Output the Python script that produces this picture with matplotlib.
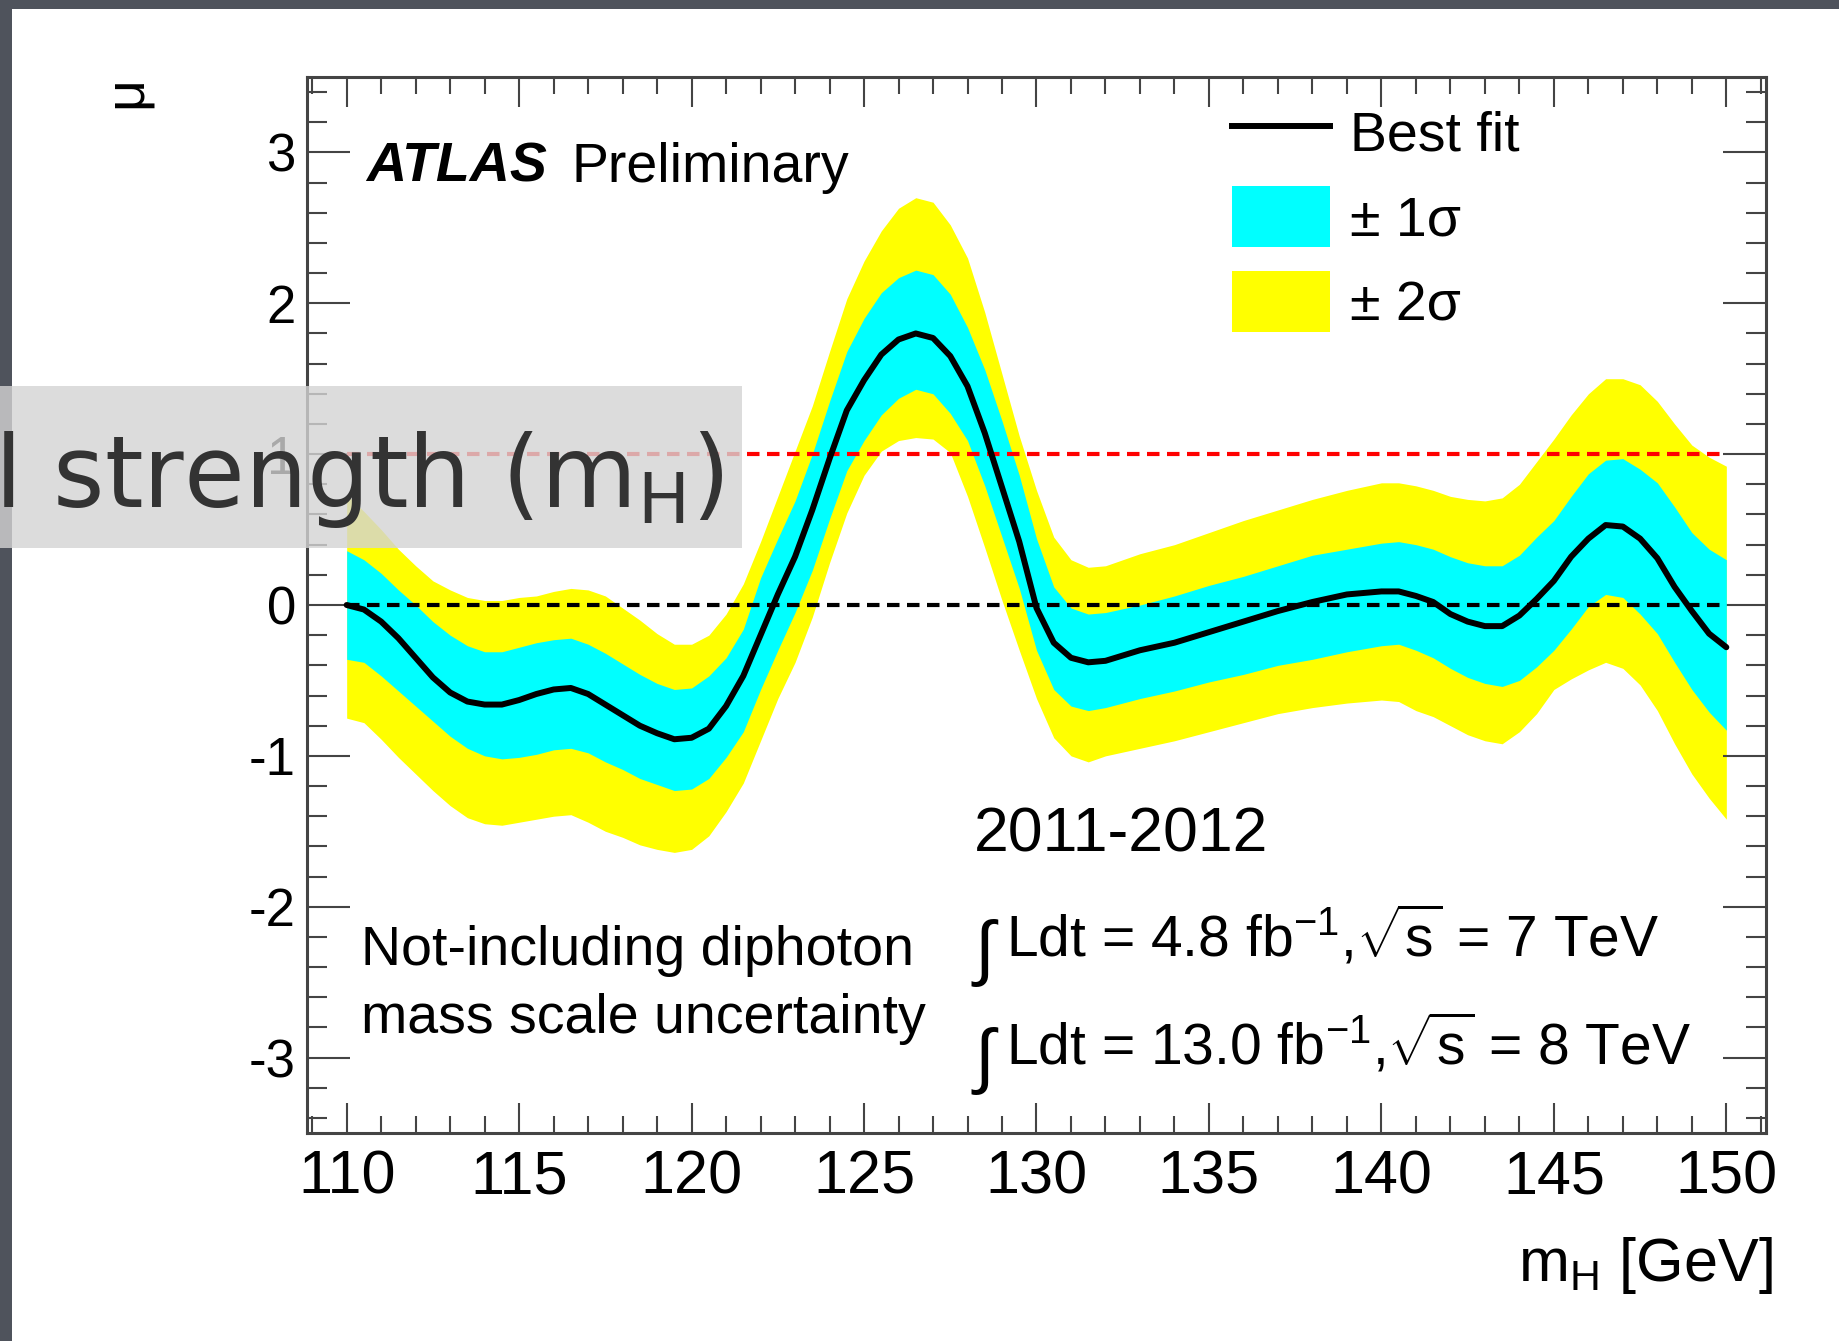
import matplotlib.pyplot as plt
from matplotlib.lines import Line2D
from matplotlib.patches import Patch, Rectangle
from matplotlib.ticker import MultipleLocator

plt.rcParams['font.family'] = ['Liberation Sans', 'DejaVu Sans']
plt.rcParams['mathtext.fontset'] = 'custom'
plt.rcParams['mathtext.rm'] = 'Liberation Sans'
plt.rcParams['mathtext.it'] = 'Liberation Sans:italic'
plt.rcParams['mathtext.bf'] = 'Liberation Sans:bold'
plt.rcParams['axes.unicode_minus'] = False

# Higgs mass hypotheses (GeV)
mh = [110, 110.5, 111, 111.5, 112, 112.5, 113, 113.5, 114, 114.5,
      115, 115.5, 116, 116.5, 117, 117.5, 118, 118.5, 119, 119.5,
      120, 120.5, 121, 121.5, 122, 122.5, 123, 123.5, 124, 124.5,
      125, 125.5, 126, 126.5, 127, 127.5, 128, 128.5, 129, 129.5,
      130, 130.5, 131, 131.5, 132, 133, 134, 135, 136, 137,
      138, 139, 140, 140.5, 141, 141.5, 142, 142.5, 143, 143.5,
      144, 144.5, 145, 145.5, 146, 146.5, 147, 147.5, 148, 148.5,
      149, 149.5, 150]

# best fit signal strength
mu_best = [0.00, -0.03, -0.11, -0.22, -0.35, -0.48, -0.58, -0.64, -0.66, -0.66,
           -0.63, -0.59, -0.56, -0.55, -0.59, -0.66, -0.73, -0.80, -0.85, -0.89,
           -0.88, -0.82, -0.67, -0.47, -0.20, 0.07, 0.32, 0.63, 0.97, 1.29,
           1.49, 1.66, 1.76, 1.80, 1.77, 1.65, 1.45, 1.14, 0.78, 0.42,
           -0.02, -0.25, -0.35, -0.38, -0.37, -0.30, -0.25, -0.18, -0.11, -0.04,
           0.02, 0.07, 0.09, 0.09, 0.06, 0.02, -0.06, -0.11, -0.14, -0.14,
           -0.07, 0.04, 0.16, 0.32, 0.44, 0.53, 0.52, 0.44, 0.31, 0.12,
           -0.04, -0.19, -0.28]

# +-1 sigma band edges
sig1_hi = [0.36, 0.30, 0.21, 0.10, 0.00, -0.11, -0.20, -0.27, -0.31, -0.31,
           -0.28, -0.25, -0.23, -0.22, -0.26, -0.32, -0.39, -0.46, -0.52, -0.56,
           -0.55, -0.47, -0.35, -0.16, 0.18, 0.44, 0.69, 1.00, 1.35, 1.68,
           1.90, 2.07, 2.17, 2.22, 2.19, 2.06, 1.84, 1.56, 1.22, 0.86,
           0.44, 0.12, -0.02, -0.06, -0.05, 0.00, 0.06, 0.13, 0.19, 0.26,
           0.33, 0.37, 0.41, 0.42, 0.40, 0.37, 0.32, 0.28, 0.26, 0.26,
           0.33, 0.45, 0.56, 0.72, 0.87, 0.96, 0.97, 0.90, 0.81, 0.65,
           0.48, 0.37, 0.30]
sig1_lo = [-0.36, -0.38, -0.47, -0.57, -0.67, -0.77, -0.87, -0.95, -1.00, -1.02,
           -1.01, -0.99, -0.96, -0.95, -0.98, -1.04, -1.09, -1.15, -1.19, -1.23,
           -1.22, -1.15, -1.01, -0.84, -0.56, -0.30, -0.05, 0.23, 0.57, 0.89,
           1.09, 1.26, 1.37, 1.43, 1.40, 1.27, 1.09, 0.79, 0.45, 0.11,
           -0.30, -0.56, -0.67, -0.70, -0.68, -0.62, -0.57, -0.51, -0.46, -0.40,
           -0.36, -0.31, -0.27, -0.26, -0.30, -0.35, -0.42, -0.48, -0.52, -0.54,
           -0.50, -0.41, -0.30, -0.16, -0.01, 0.07, 0.05, -0.06, -0.19, -0.38,
           -0.56, -0.71, -0.83]

# +-2 sigma band edges
sig2_hi = [0.73, 0.62, 0.50, 0.37, 0.26, 0.16, 0.10, 0.05, 0.03, 0.03,
           0.05, 0.06, 0.09, 0.11, 0.10, 0.06, -0.02, -0.10, -0.19, -0.26,
           -0.26, -0.20, -0.06, 0.14, 0.42, 0.72, 1.02, 1.32, 1.68, 2.03,
           2.28, 2.48, 2.63, 2.70, 2.67, 2.52, 2.30, 1.94, 1.53, 1.12,
           0.76, 0.45, 0.30, 0.25, 0.26, 0.34, 0.40, 0.48, 0.56, 0.63,
           0.70, 0.76, 0.81, 0.81, 0.79, 0.76, 0.72, 0.70, 0.69, 0.71,
           0.80, 0.95, 1.10, 1.26, 1.40, 1.50, 1.50, 1.46, 1.35, 1.20,
           1.06, 0.98, 0.92]
sig2_lo = [-0.75, -0.78, -0.89, -1.01, -1.12, -1.23, -1.33, -1.41, -1.45, -1.46,
           -1.44, -1.42, -1.40, -1.39, -1.44, -1.50, -1.54, -1.59, -1.62, -1.64,
           -1.62, -1.53, -1.37, -1.18, -0.90, -0.62, -0.38, -0.08, 0.28, 0.61,
           0.86, 1.02, 1.09, 1.11, 1.10, 1.01, 0.72, 0.38, 0.03, -0.30,
           -0.62, -0.88, -1.00, -1.04, -1.00, -0.95, -0.90, -0.84, -0.78, -0.72,
           -0.68, -0.65, -0.63, -0.64, -0.70, -0.74, -0.80, -0.86, -0.90, -0.92,
           -0.84, -0.72, -0.56, -0.49, -0.43, -0.38, -0.42, -0.53, -0.70, -0.92,
           -1.12, -1.28, -1.42]

legend_labels = ['Best fit', '± 1σ', '± 2σ']

W, H = 1840, 1341
fig = plt.figure(figsize=(W / 100, H / 100), dpi=100)
ax = fig.add_axes([307 / W, 1 - 1133 / H, 1459 / W, 1056 / H])

# bands, reference lines, best fit
ax.fill_between(mh, sig2_lo, sig2_hi, color='#ffff00', lw=0, zorder=1)
ax.fill_between(mh, sig1_lo, sig1_hi, color='#00ffff', lw=0, zorder=2)
ax.hlines(0, mh[0], mh[-1], colors='black', lw=3, linestyles=(0, (3, 1.8)), zorder=3)
ax.hlines(1, mh[0], mh[-1], colors='#ff0000', lw=3, linestyles=(0, (3, 1.8)), zorder=3)
ax.plot(mh, mu_best, color='black', lw=4.3, zorder=4, solid_capstyle='round')

ax.set_xlim(108.85, 151.15)
ax.set_ylim(-3.5, 3.5)

ax.xaxis.set_major_locator(MultipleLocator(5))
ax.xaxis.set_minor_locator(MultipleLocator(1))
ax.yaxis.set_major_locator(MultipleLocator(1))
ax.yaxis.set_minor_locator(MultipleLocator(0.2))
ax.tick_params(which='both', direction='in', top=True, right=True,
               color='#444444', width=1.5)
ax.tick_params(axis='x', which='major', length=21.6, labelsize=44, pad=12)
ax.tick_params(axis='x', which='minor', length=12)
ax.tick_params(axis='y', which='major', length=31, labelsize=38, pad=8)
ax.tick_params(axis='y', which='minor', length=14.4)
for sp in ax.spines.values():
    sp.set_linewidth(2.2)
    sp.set_color('#444444')

ax.set_xlabel(r'$\mathregular{m_H}$ [GeV]', loc='right', fontsize=44)
ax.xaxis.set_label_coords(1.005, -0.097)
ax.text(-0.1236, 0.986, 'μ', transform=ax.transAxes, rotation=90,
        fontsize=40, ha='center', va='center')

# labels inside the frame
ax.text(0.0404, 0.9006, 'ATLAS', transform=ax.transAxes, fontsize=40,
        fontweight='bold', fontstyle='italic', va='baseline')
ax.text(0.1813, 0.9006, 'Preliminary', transform=ax.transAxes, fontsize=40,
        va='baseline')
ax.text(0.4572, 0.2661, '2011-2012', transform=ax.transAxes, fontsize=45,
        va='baseline')
for y_int, y_txt, lumi in [(0.1525, 0.1667, r'Ldt = 4.8 fb$^{-1}$,$\sqrt{\mathregular{s}}$ = 7 TeV'),
                           (0.0502, 0.0644, r'Ldt = 13.0 fb$^{-1}$,$\sqrt{\mathregular{s}}$ = 8 TeV')]:
    ax.text(0.4572, y_int, '∫', transform=ax.transAxes, fontsize=52, va='baseline')
    ax.text(0.479, y_txt, lumi, transform=ax.transAxes, fontsize=41, va='baseline')
ax.text(0.0370, 0.1591, 'Not-including diphoton', transform=ax.transAxes,
        fontsize=40, va='baseline')
ax.text(0.0370, 0.0947, 'mass scale uncertainty', transform=ax.transAxes,
        fontsize=40, va='baseline')

handles = [Line2D([], [], color='black', lw=4.3),
           Patch(facecolor='#00ffff'),
           Patch(facecolor='#ffff00')]
ax.legend(handles, legend_labels, loc='upper left',
          bbox_to_anchor=(1232 / W, 1 - 101 / H), bbox_transform=fig.transFigure,
          frameon=False, fontsize=40, handlelength=1.76, handleheight=1.315,
          labelspacing=0.43, handletextpad=0.36, borderpad=0, borderaxespad=0)

# slide frame and the overlaid title box
fig.add_artist(Rectangle((0, 0), 12 / W, 1, transform=fig.transFigure,
                         facecolor='#4f535c', lw=0, zorder=0))
fig.add_artist(Rectangle((0, 1 - 9 / H), 1, 9 / H, transform=fig.transFigure,
                         facecolor='#4f535c', lw=0, zorder=0))
fig.add_artist(Rectangle((0, 1 - 548 / H), 742 / W, 162 / H, transform=fig.transFigure,
                         facecolor='#d4d4d4', alpha=0.8, lw=0, zorder=5))
fig.text(-6 / W, 1 - 507 / H, r'l strength ($\mathregular{m_H}$)', fontsize=71,
         family='DejaVu Sans', color='#333333', va='baseline', zorder=6)

fig.savefig('out.png', dpi=100)
